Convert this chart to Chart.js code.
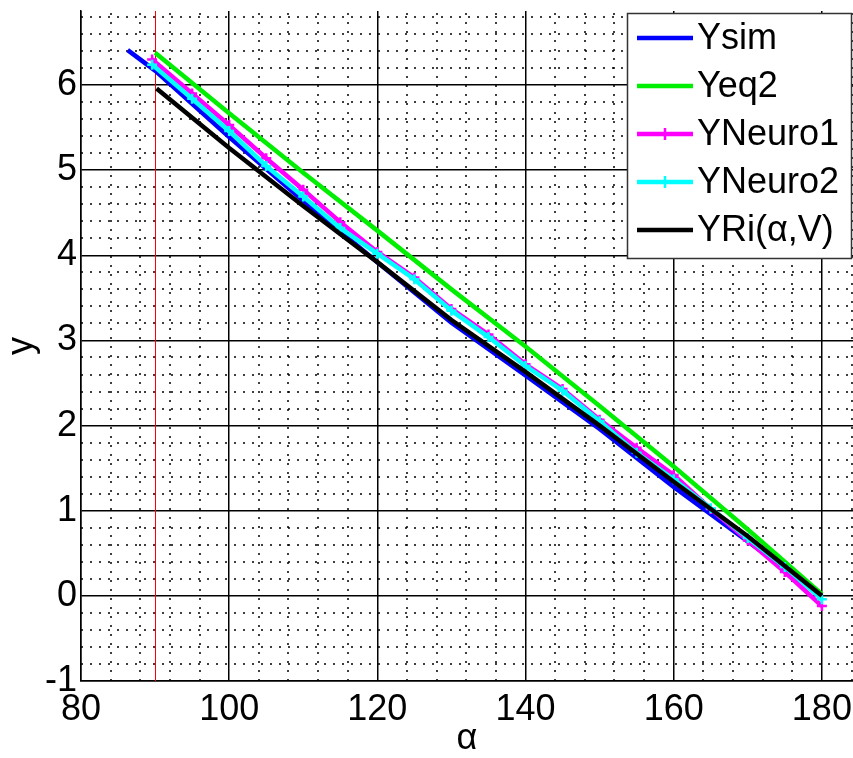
<!DOCTYPE html>
<html>
<head>
<meta charset="utf-8">
<script src="https://cdn.jsdelivr.net/npm/chart.js@4.4.1/dist/chart.umd.min.js"></script>
<style>
  html, body { margin: 0; padding: 0; background: #fff; }
  #wrap { width: 853px; height: 758px; }
</style>
</head>
<body>
<div id="wrap"><canvas id="plot" width="853" height="758"></canvas></div>
<script>
// axis ranges and tick labels
const alphaTicks = [80, 100, 120, 140, 160, 180];
const yTicks = [-1, 0, 1, 2, 3, 4, 5, 6];
const alphaMin = 80, alphaMax = 184.2;
const yMin = -1, yMax = 6.87;
const alphaRef = 90; // red vertical reference line

// simulated output
const alphaSim = [86.3, 90, 100, 110, 120, 130, 140, 150, 160, 170, 180];
const ySim     = [6.41, 6.17, 5.39, 4.64, 3.92, 3.21, 2.59, 1.96, 1.28, 0.64, 0.0];

// equation 2
const alphaEq2 = [90, 100, 110, 120, 130, 140, 150, 160, 170, 180];
const yEq2     = [6.38, 5.67, 4.97, 4.29, 3.60, 2.93, 2.23, 1.52, 0.78, 0.02];

// the two networks share the same sample points
const alphaNeuro = [89.6, 95, 100, 105, 110, 115, 120, 125, 130, 135, 140, 145, 150, 155, 160, 165, 170, 175, 180];
const yNeuro1 = [6.30, 5.90, 5.53, 5.14, 4.77, 4.39, 4.04, 3.74, 3.37, 3.07, 2.72, 2.43, 2.07, 1.74, 1.42, 1.02, 0.65, 0.28, -0.12];
const yNeuro2 = [6.24, 5.84, 5.46, 5.05, 4.69, 4.32, 4.02, 3.72, 3.35, 3.04, 2.70, 2.41, 2.05, 1.68, 1.37, 1.03, 0.68, 0.34, -0.04];

// YRi(alpha, V)
const alphaRi = [90.2, 100, 110, 120, 130, 140, 150, 160, 170, 180];
const yRi     = [5.96, 5.26, 4.58, 3.92, 3.24, 2.63, 2.00, 1.34, 0.70, 0.0];

const FONT = '"Liberation Sans", Arial, Helvetica, sans-serif';
Chart.defaults.font.family = FONT;
Chart.defaults.color = '#000';

const pts = (xs, ys) => xs.map((x, i) => ({ x, y: ys[i] }));

function series(label, xs, ys, color, order, marker) {
  return {
    label,
    data: pts(xs, ys),
    borderColor: color,
    backgroundColor: color,
    borderWidth: 4.5,
    tension: 0,
    order,
    pointStyle: marker ? 'cross' : 'circle',
    pointRadius: marker ? 5 : 0,
    pointBorderWidth: 2.5,
    pointHoverRadius: 0
  };
}

// dotted minor grid plus the red reference line, under the curves
const minorGrid = {
  id: 'minorGrid',
  beforeDatasetsDraw(chart) {
    const { ctx, chartArea: a, scales: { x, y } } = chart;
    ctx.save();
    ctx.beginPath();
    ctx.rect(a.left, a.top, a.right - a.left, a.bottom - a.top);
    ctx.clip();
    ctx.strokeStyle = '#000';
    ctx.lineWidth = 1.5;
    ctx.setLineDash([2, 7]);
    for (let i = 1; alphaMin + 4 * i < alphaMax; i++) {
      if (i % 5 === 0) continue;
      const px = Math.round(x.getPixelForValue(alphaMin + 4 * i));
      ctx.beginPath(); ctx.moveTo(px, a.bottom); ctx.lineTo(px, a.top); ctx.stroke();
    }
    for (let i = 1; yMin + 0.2 * i < yMax; i++) {
      if (i % 5 === 0) continue;
      const py = Math.round(y.getPixelForValue(yMin + 0.2 * i));
      ctx.beginPath(); ctx.moveTo(a.left, py); ctx.lineTo(a.right, py); ctx.stroke();
    }
    ctx.setLineDash([]);
    ctx.strokeStyle = '#ff0000';
    ctx.lineWidth = 1;
    const rx = Math.round(x.getPixelForValue(alphaRef)) + 0.5;
    ctx.beginPath(); ctx.moveTo(rx, a.top); ctx.lineTo(rx, a.bottom); ctx.stroke();
    ctx.restore();
  }
};

// boxed legend in the upper right corner
const boxLegend = {
  id: 'boxLegend',
  afterDraw(chart) {
    const ctx = chart.ctx;
    const box = { left: 627, top: 13, right: 851, bottom: 258 };
    ctx.save();
    ctx.fillStyle = '#fff';
    ctx.fillRect(box.left, box.top, box.right - box.left, box.bottom - box.top);
    ctx.strokeStyle = '#333';
    ctx.lineWidth = 1.5;
    ctx.strokeRect(box.left + 0.5, box.top + 0.5, box.right - box.left, box.bottom - box.top);
    ctx.font = '36px ' + FONT;
    ctx.textBaseline = 'middle';
    ctx.textAlign = 'left';
    chart.data.datasets.forEach((ds, i) => {
      const yy = box.top + 25 + i * 48;
      ctx.strokeStyle = ds.borderColor;
      ctx.lineWidth = 4.5;
      ctx.beginPath(); ctx.moveTo(637, yy); ctx.lineTo(693, yy); ctx.stroke();
      if (ds.pointStyle === 'cross') {
        ctx.lineWidth = 2.5;
        ctx.beginPath(); ctx.moveTo(665, yy - 6); ctx.lineTo(665, yy + 6); ctx.stroke();
      }
      ctx.fillStyle = '#000';
      ctx.fillText(ds.label, 697, yy + 1);
    });
    ctx.restore();
  }
};

new Chart(document.getElementById('plot'), {
  type: 'line',
  data: {
    datasets: [
      series('Ysim', alphaSim, ySim, '#0000ff', 5, false),
      series('Yeq2', alphaEq2, yEq2, '#00ee00', 4, false),
      series('YNeuro1', alphaNeuro, yNeuro1, '#ff00ff', 3, true),
      series('YNeuro2', alphaNeuro, yNeuro2, '#00ffff', 2, true),
      series('YRi(\u03b1,V)', alphaRi, yRi, '#000000', 1, false)
    ]
  },
  options: {
    responsive: false,
    animation: false,
    layout: { autoPadding: false, padding: { top: 11, right: 0, left: 0, bottom: 0 } },
    plugins: { legend: { display: false }, tooltip: { enabled: false } },
    scales: {
      x: {
        type: 'linear',
        min: alphaMin,
        max: alphaMax,
        afterBuildTicks: s => { s.ticks = alphaTicks.map(v => ({ value: v })); },
        afterFit: s => { s.height = 77; s.paddingLeft = 0; s.paddingRight = 0; },
        ticks: { font: { size: 36 }, padding: 7, maxRotation: 0, autoSkip: false },
        grid: { color: '#000', lineWidth: 1.5, drawTicks: false },
        border: { color: '#000', width: 1.5 },
        title: { display: true, text: '\u03b1', font: { size: 36 }, padding: { top: 0, bottom: -3 } }
      },
      y: {
        type: 'linear',
        min: yMin,
        max: yMax,
        afterBuildTicks: s => { s.ticks = yTicks.map(v => ({ value: v })); },
        afterFit: s => { s.width = 81; s.paddingTop = 0; s.paddingBottom = 0; },
        ticks: { font: { size: 36 }, padding: 4, autoSkip: false },
        grid: { color: '#000', lineWidth: 1.5, drawTicks: false },
        border: { color: '#000', width: 1.5 },
        title: { display: true, text: 'y', font: { size: 36 }, padding: 0 }
      }
    }
  },
  plugins: [minorGrid, boxLegend]
});
</script>
</body>
</html>
